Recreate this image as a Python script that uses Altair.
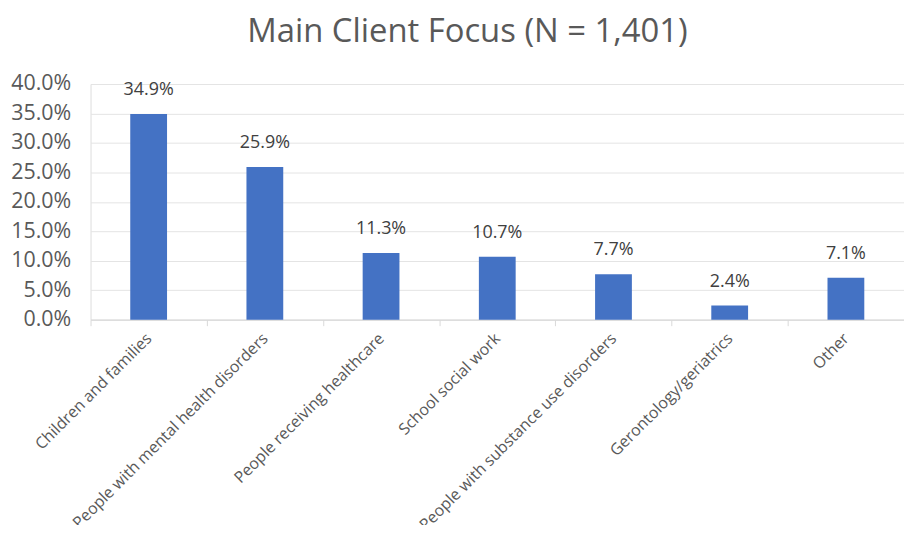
import altair as alt
import pandas as pd

categories = ["Children and families", "People with mental health disorders",
              "People receiving healthcare", "School social work",
              "People with substance use disorders", "Gerontology/geriatrics", "Other"]
values = [0.349, 0.259, 0.113, 0.107, 0.077, 0.024, 0.071]
labels = ["34.9%", "25.9%", "11.3%", "10.7%", "7.7%", "2.4%", "7.1%"]
y_ticks = [0, 0.05, 0.1, 0.15, 0.2, 0.25, 0.3, 0.35, 0.4]

df = pd.DataFrame({"cat": categories, "val": values, "lab": labels})

FONT = "Open Sans"

x = alt.X("cat:N", sort=categories, title=None,
          scale=alt.Scale(paddingInner=0, paddingOuter=0),
          axis=alt.Axis(labelAngle=-45, labelAlign="right", labelBaseline="middle",
                        labelFont=FONT, labelFontSize=16, labelColor="#595959",
                        labelPadding=10, tickBand="extent", tickColor="#d9d9d9",
                        tickSize=6, domainColor="#d9d9d9", labelLimit=400,
                        labelOverlap=False))
y = alt.Y("val:Q", title=None,
          scale=alt.Scale(domain=[0, 0.4]),
          axis=alt.Axis(format=".1%", values=y_ticks, labelOverlap=False, tickCount=9,
                        labelFont=FONT, labelFontSize=21.5, labelColor="#595959",
                        grid=True, gridColor="#e4e4e4", domain=False, ticks=False,
                        labelPadding=20))

base = alt.Chart(df).encode(x=x, y=y)
bars = base.mark_bar(size=37, color="#4472C4")
text = base.mark_text(dy=-24, font=FONT, fontSize=18, color="#404040").encode(text="lab:N")

chart = (bars + text).properties(
    width=818, height=237,
    autosize=alt.AutoSizeParams(type="none"),
    title=alt.TitleParams("Main Client Focus (N = 1,401)", font=FONT, fontSize=33,
                          color="#595959", fontWeight="normal", offset=24, anchor="middle",
                          dx=-30),
    padding={"left": 83, "top": 75, "right": 0, "bottom": 205},
).configure_view(stroke=None).configure(background="white")

chart.save("out.html", embed_options={"renderer": "svg", "actions": False})
